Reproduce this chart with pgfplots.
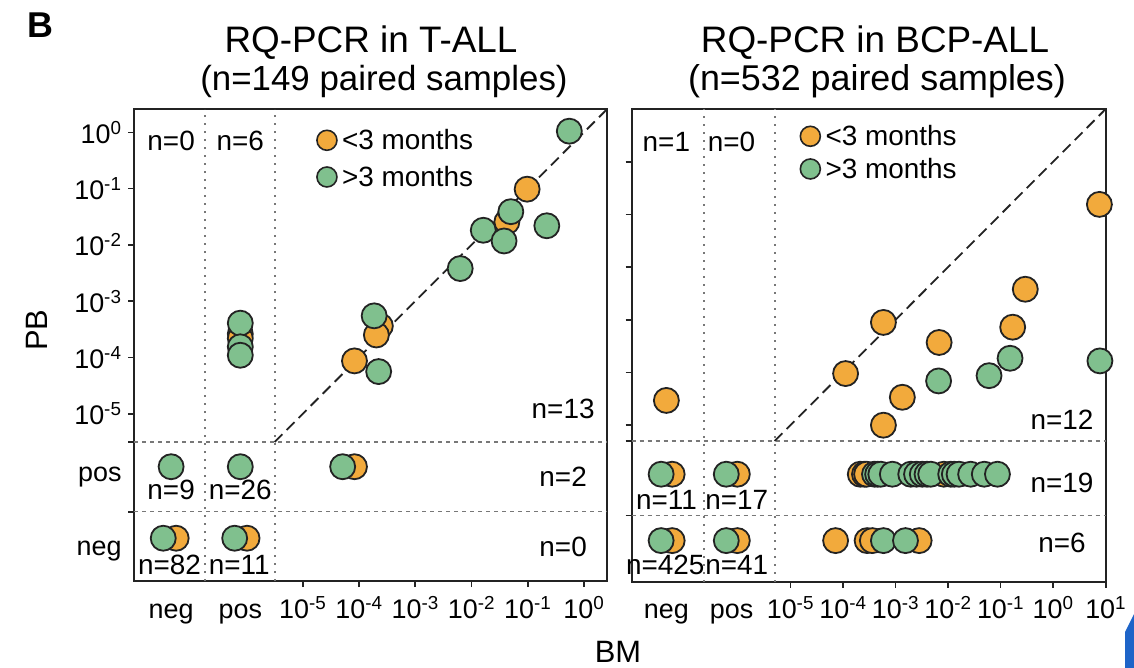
\documentclass[border=0pt]{standalone}
\usepackage{fontspec}
\setmainfont{Liberation Sans}
\usepackage{pgfplots}
\pgfplotsset{compat=1.18}
\definecolor{cOr}{RGB}{242,170,60}
\definecolor{cGr}{RGB}{128,192,142}
\definecolor{cEd}{RGB}{35,35,35}
\definecolor{cSep}{RGB}{120,120,120}
\definecolor{cBlue}{RGB}{30,100,200}
\newcommand{\tl}[1]{10\textsuperscript{#1}}
\tikzset{
 vsep/.style={cSep, line width=1.8bp, dash pattern=on 2bp off 6bp},
 hsep/.style={cSep, line width=1.3bp, dash pattern=on 4bp off 4bp},
 diag/.style={draw=cEd, line width=1.8bp, dash pattern=on 11bp off 6bp},
 nlab/.style={font=\fontsize{28}{31}\selectfont},
}
\pgfplotsset{
 panel/.style={
  scale only axis, clip=false, anchor=south west,
  axis line style={line width=1.8bp, draw=cEd},
  every tick/.style={line width=1.6bp, draw=cEd},
  major tick length=6bp,
  tick align=outside, xtick pos=bottom, ytick pos=left,
  ticklabel style={font=\fontsize{27}{30}\selectfont},
  xticklabel style={anchor=base, yshift=-31bp},
  yticklabel style={xshift=-3bp},
  extra x tick style={major tick length=0pt, xticklabel style={yshift=-6bp}},
  extra y tick style={major tick length=0pt, yticklabel style={xshift=-6bp}},
  legend style={draw=none, fill=none, anchor=north west, font=\fontsize{28}{31}\selectfont, inner sep=0pt},
  legend cell align=left,
 },
 orp/.style={only marks, mark=*, mark size=12.5bp, mark options={fill=cOr, draw=cEd, line width=1.8bp}, forget plot},
 grp/.style={only marks, mark=*, mark size=12.5bp, mark options={fill=cGr, draw=cEd, line width=1.8bp}, forget plot},
 legor/.style={legend image code/.code={\draw[fill=cOr, draw=cEd, line width=1.6bp] (10bp,0bp) circle (10bp); \path (23bp,0bp);}},
 leggr/.style={legend image code/.code={\draw[fill=cGr, draw=cEd, line width=1.6bp] (10bp,0bp) circle (10bp); \path (23bp,0bp);}},
}
\begin{document}
\begin{tikzpicture}
\path[use as bounding box] (0,0) rectangle (1134bp,-668bp);
% ---------------- left panel ----------------
\begin{axis}[panel, at={(134bp,-581bp)}, width=473bp, height=472bp,
  xmin=-8, xmax=0.41, ymin=-7.97, ymax=0.414,
  xtick={-5,-4,-3,-2,-1,0},
  xticklabels={\tl{-5},\tl{-4},\tl{-3},\tl{-2},\tl{-1},\tl{0}},
  extra x ticks={-7.34,-6.11}, extra x tick labels={neg,pos},
  ytick={-5,-4,-3,-2,-1,0,-5.5,-6.74},
  yticklabels={\tl{-5},\tl{-4},\tl{-3},\tl{-2},\tl{-1},\tl{0},,},
  extra y ticks={-6.12,-7.44}, extra y tick labels={pos,neg},
  legend style={at={(axis cs:-4.765,0.09)}, row sep=11bp},
]
\draw[vsep] (axis cs:-6.735,-7.97) -- (axis cs:-6.735,0.414);
\draw[vsep] (axis cs:-5.5,-7.97) -- (axis cs:-5.5,0.414);
\draw[hsep] (axis cs:-8,-5.5) -- (axis cs:0.41,-5.5);
\draw[hsep] (axis cs:-8,-6.74) -- (axis cs:0.41,-6.74);
\addplot[diag, forget plot] coordinates {(-5.5,-5.5) (0.41,0.41)};
\addlegendimage{legor}
\addlegendentry{<3 months}
\addlegendimage{leggr}
\addlegendentry{>3 months}
% <3 months
\addplot[orp] coordinates {
 (-1.01,-1.01) (-1.37,-1.59) (-3.62,-3.44) (-3.69,-3.60) (-4.08,-4.06)
 (-6.11,-3.58) (-6.11,-3.66)
 (-4.08,-5.94)
 (-7.25,-7.21) (-5.99,-7.21)
};
% >3 months
\addplot[grp] coordinates {
 (-0.26,0.02) (-1.30,-1.41) (-0.66,-1.66) (-1.79,-1.74) (-1.42,-1.93)
 (-2.20,-2.42) (-3.73,-3.26) (-3.65,-4.25)
 (-6.11,-3.39) (-6.11,-3.81) (-6.11,-3.96)
 (-7.34,-5.94) (-6.11,-5.94) (-4.29,-5.94)
 (-7.48,-7.21) (-6.21,-7.21)
};
\node[nlab] at (axis cs:-7.34,-0.155) {n=0};
\node[nlab] at (axis cs:-6.11,-0.155) {n=6};
\node[nlab] at (axis cs:-0.37,-4.91) {n=13};
\node[nlab] at (axis cs:-0.37,-6.12) {n=2};
\node[nlab] at (axis cs:-0.37,-7.36) {n=0};
\node[nlab] at (axis cs:-7.34,-6.35) {n=9};
\node[nlab] at (axis cs:-6.11,-6.35) {n=26};
\node[nlab] at (axis cs:-7.37,-7.68) {n=82};
\node[nlab] at (axis cs:-6.13,-7.68) {n=11};
\end{axis}
% ---------------- right panel ----------------
\begin{axis}[panel, at={(631.7bp,-581.7bp)}, width=474bp, height=472.7bp,
  xmin=-8.02, xmax=1.0, ymin=-7.97, ymax=1.0,
  xtick={-5,-4,-3,-2,-1,0,1},
  xticklabels={\tl{-5},\tl{-4},\tl{-3},\tl{-2},\tl{-1},\tl{0},\tl{1}},
  extra x ticks={-7.36,-6.12}, extra x tick labels={neg,pos},
  ytick={-5,-4,-3,-2,-1,0,-5.3,-6.71},
  yticklabels={,,,,,,,},
  legend style={at={(axis cs:-4.83,0.73)}, row sep=7bp},
]
\draw[vsep] (axis cs:-6.64,-7.97) -- (axis cs:-6.64,1.0);
\draw[vsep] (axis cs:-5.3,-7.97) -- (axis cs:-5.3,1.0);
\draw[hsep] (axis cs:-8.02,-5.3) -- (axis cs:1.0,-5.3);
\draw[hsep] (axis cs:-8.02,-6.71) -- (axis cs:1.0,-6.71);
\addplot[diag, forget plot] coordinates {(-5.3,-5.3) (1.0,1.0)};
\addlegendimage{legor}
\addlegendentry{<3 months}
\addlegendimage{leggr}
\addlegendentry{>3 months}
% <3 months
\addplot[orp] coordinates {
 (0.88,-0.81) (-0.53,-2.42) (-3.23,-3.05) (-0.77,-3.14) (-2.17,-3.43)
 (-3.95,-4.02) (-2.87,-4.47) (-3.23,-5.00)
 (-7.36,-4.53)
 (-3.67,-5.93) (-3.59,-5.93) (-3.55,-5.93) (-2.08,-5.93)
 (-7.25,-5.93) (-6.01,-5.93)
 (-4.14,-7.19) (-3.54,-7.19) (-3.44,-7.19) (-2.55,-7.19)
 (-7.25,-7.19) (-6.01,-7.19)
};
% >3 months
\addplot[grp] coordinates {
 (-0.82,-3.73) (-2.18,-4.16) (-1.22,-4.06) (0.89,-3.78)
 (-3.40,-5.93) (-3.34,-5.93) (-3.28,-5.93) (-3.06,-5.93) (-2.71,-5.93)
 (-2.60,-5.93) (-2.49,-5.93) (-2.40,-5.93) (-2.33,-5.93) (-1.95,-5.93)
 (-1.88,-5.93) (-1.79,-5.93) (-1.57,-5.93) (-1.31,-5.93) (-1.06,-5.93)
 (-7.46,-5.93) (-6.22,-5.93)
 (-3.23,-7.19) (-2.81,-7.19)
 (-7.46,-7.19) (-6.22,-7.19)
};
\node[nlab] at (axis cs:-7.36,0.38) {n=1};
\node[nlab] at (axis cs:-6.12,0.38) {n=0};
\node[nlab] at (axis cs:0.17,-4.90) {n=12};
\node[nlab] at (axis cs:0.17,-6.10) {n=19};
\node[nlab] at (axis cs:0.17,-7.24) {n=6};
\node[nlab] at (axis cs:-7.36,-6.42) {n=11};
\node[nlab] at (axis cs:-6.02,-6.42) {n=17};
\node[nlab] at (axis cs:-7.38,-7.65) {n=425};
\node[nlab] at (axis cs:-6.02,-7.65) {n=41};
\end{axis}
% ---------------- titles and labels ----------------
\node[anchor=base west, font=\fontsize{36}{40}\selectfont\bfseries] at (24bp,-37bp) {B};
\node[anchor=base, font=\fontsize{37}{40}\selectfont] at (371bp,-52bp) {RQ-PCR in T-ALL};
\node[anchor=base, font=\fontsize{35}{40}\selectfont] at (384bp,-90bp) {(n=149 paired samples)};
\node[anchor=base, font=\fontsize{37}{40}\selectfont] at (875bp,-52bp) {RQ-PCR in BCP-ALL};
\node[anchor=base, font=\fontsize{36}{40}\selectfont] at (877bp,-90bp) {(n=532 paired samples)};
\node[rotate=90, font=\fontsize{31}{34}\selectfont] at (37bp,-330bp) {PB};
\node[font=\fontsize{31}{34}\selectfont] at (618bp,-652bp) {BM};
\fill[cBlue] (1125bp,-668bp) -- (1125bp,-632bp) -- (1134bp,-614bp) -- (1134bp,-668bp) -- cycle;
\end{tikzpicture}
\end{document}
